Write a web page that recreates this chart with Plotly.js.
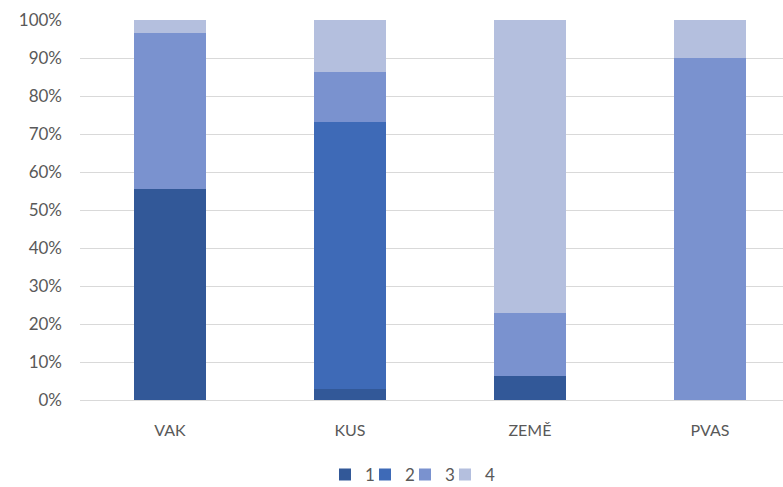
<!DOCTYPE html>
<html>
<head>
<meta charset="utf-8">
<script src="https://cdn.plot.ly/plotly-3.0.1.min.js"></script>
<style>html,body{margin:0;padding:0;background:#fff;}#chart{width:783px;height:487px;}</style>
</head>
<body>
<div id="chart"></div>
<script>
var categories = ["VAK", "KUS", "ZEMĚ", "PVAS"];
var seriesNames = ["1", "2", "3", "4"];
var series1 = [55.4, 2.9, 6.3, 0];
var series2 = [0, 70.3, 0, 0];
var series3 = [41.1, 13.2, 16.5, 90.1];
var series4 = [3.5, 13.6, 77.2, 9.9];
var colors = ["#325898", "#3E6AB7", "#7A92CF", "#B4BFDE"];

var allSeries = [series1, series2, series3, series4];
// one legend box per entry; the right-most entry is drawn first so no box covers a neighbour's text
var legendIds = ["legend4", "legend3", "legend2", "legend"];
var traces = allSeries.map(function (vals, i) {
  return {
    type: "bar",
    name: seriesNames[i],
    x: categories,
    y: vals,
    width: 0.4,
    legend: legendIds[i],
    marker: { color: colors[i], line: { width: 0 } },
    hoverinfo: "skip"
  };
});

function legendAt(xPaper) {
  return {
    orientation: "h",
    x: xPaper,
    xanchor: "left",
    y: -0.197,
    yanchor: "middle",
    bgcolor: "rgba(0,0,0,0)",
    font: { size: 17, color: "#595959" },
    itemwidth: 30,
    entrywidth: 30,
    entrywidthmode: "pixels"
  };
}

var layout = {
  width: 783,
  height: 487,
  barmode: "stack",
  barnorm: "percent",
  margin: { l: 80, r: 0, t: 20, b: 87, autoexpand: false },
  paper_bgcolor: "#fff",
  plot_bgcolor: "#fff",
  font: { family: "Lato, 'Open Sans', sans-serif", size: 17, color: "#595959" },
  xaxis: {
    range: [-0.5, 3.406],
    showgrid: false,
    zeroline: false,
    showline: false,
    ticks: "",
    ticklabelstandoff: 19,
    automargin: false,
    tickfont: { size: 16, color: "#595959" }
  },
  yaxis: {
    range: [0, 100],
    dtick: 10,
    ticksuffix: "%",
    showgrid: true,
    gridcolor: "#D9D9D9",
    gridwidth: 1,
    zeroline: true,
    zerolinecolor: "#D9D9D9",
    zerolinewidth: 1,
    showline: false,
    ticks: "",
    automargin: false,
    ticklabelstandoff: 17,
    tickfont: { size: 17, color: "#595959" }
  },
  showlegend: true,
  legend4: legendAt(0.3485),
  legend3: legendAt(0.4054),
  legend2: legendAt(0.4623),
  legend: legendAt(0.5192)
};

Plotly.newPlot("chart", traces, layout, { displayModeBar: false, staticPlot: true });
</script>
</body>
</html>
